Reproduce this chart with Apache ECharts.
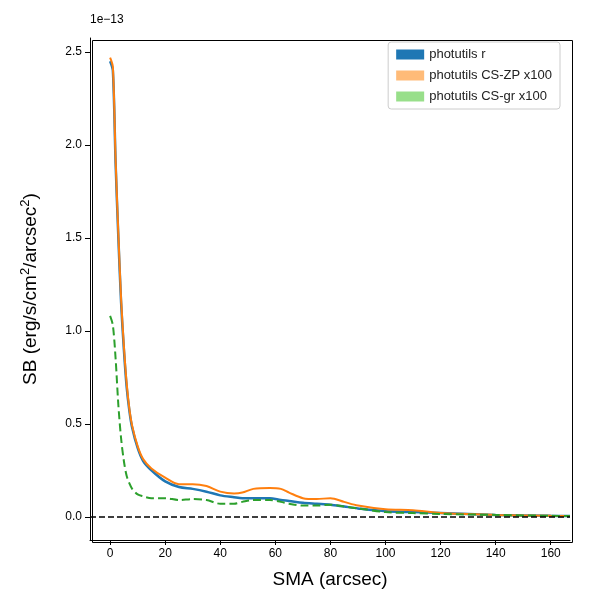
<!DOCTYPE html>
<html><head><meta charset="utf-8">
<script src="https://cdn.jsdelivr.net/npm/echarts@6/dist/echarts.min.js"></script>
<style>body{margin:0}#c{width:600px;height:600px}</style></head>
<body><div id="c"></div>
<script>
var sma = [0,1,2,3,4,5,6,7,8,10,12,15,20,25,30,35,40,45,48,52,58,62,65,70,75,80,85,90,100,110,120,140,160,167];
var photR = [2.45,2.4,1.9,1.5,1.15,0.9,0.7,0.57,0.48,0.37,0.3,0.25,0.19,0.16,0.15,0.135,0.115,0.105,0.1,0.1,0.1,0.09,0.085,0.075,0.07,0.065,0.055,0.045,0.03,0.025,0.02,0.01,0.005,0.004];
var csZP = [2.47,2.42,1.92,1.52,1.17,0.92,0.72,0.58,0.49,0.38,0.31,0.26,0.21,0.175,0.175,0.165,0.135,0.125,0.13,0.15,0.155,0.15,0.13,0.1,0.095,0.1,0.08,0.06,0.04,0.035,0.02,0.01,0.005,0.004];
var csGR = [1.08,1.03,0.85,0.6,0.42,0.3,0.22,0.18,0.15,0.12,0.11,0.1,0.1,0.09,0.095,0.09,0.07,0.07,0.08,0.09,0.09,0.08,0.07,0.06,0.06,0.065,0.055,0.045,0.025,0.02,0.015,0.01,0.005,0.004];
var xTicks = [0,20,40,60,80,100,120,140,160];
var yTicks = [0,0.5,1,1.5,2,2.5];
function pairs(v){return sma.map(function(x,i){return [x,v[i]];});}
var chart = echarts.init(document.getElementById('c'));
chart.setOption({
  animation:false,
  grid:{left:90,right:30,top:38,bottom:60},
  legend:{top:42,right:40,orient:'vertical',itemWidth:28,itemHeight:10,itemGap:8,
    backgroundColor:'#fff',borderColor:'#ccc',borderWidth:1,borderRadius:3,padding:[6,8],
    textStyle:{fontSize:13,color:'#222'},
    data:[{name:'photutils r',icon:'rect',itemStyle:{color:'#1f77b4'}},
          {name:'photutils CS-ZP x100',icon:'rect',itemStyle:{color:'#ffbb78'}},
          {name:'photutils CS-gr x100',icon:'rect',itemStyle:{color:'#98df8a'}}]},
  xAxis:{type:'value',min:-7.3,max:167,
    name:'SMA (arcsec)',nameLocation:'middle',nameGap:30,nameTextStyle:{fontSize:19,color:'#000'},
    axisLine:{onZero:false,lineStyle:{color:'#000'}},
    axisTick:{customValues:xTicks,lineStyle:{color:'#000'}},
    axisLabel:{customValues:xTicks,color:'#000',fontSize:12},splitLine:{show:false}},
  yAxis:{type:'value',min:-0.125,max:2.575,
    name:'{a|SB (erg/s/cm}{s|2}{a|/arcsec}{s|2}{a|)}',nameLocation:'middle',nameGap:48,
    nameTextStyle:{rich:{a:{fontSize:19,color:'#000'},s:{fontSize:13,color:'#000',verticalAlign:'bottom',padding:[0,0,10,0]}}},
    axisLine:{show:true,onZero:false,lineStyle:{color:'#000'}},
    axisTick:{show:true,customValues:yTicks,lineStyle:{color:'#000'}},
    axisLabel:{customValues:yTicks,color:'#000',fontSize:12,formatter:function(v){return v.toFixed(1);}},splitLine:{show:false}},
  graphic:[{type:'text',left:90,top:14,style:{text:'1e\u221213',fontSize:12,fill:'#000'}},
           {type:'rect',left:90,top:38,shape:{width:480,height:502},style:{fill:'none',stroke:'#000',lineWidth:1},silent:true}],
  series:[
    {name:'photutils r',type:'line',data:pairs(photR),showSymbol:false,smooth:0.3,lineStyle:{color:'#1f77b4',width:2.5},itemStyle:{color:'#1f77b4'}},
    {name:'photutils CS-ZP x100',type:'line',data:pairs(csZP),showSymbol:false,smooth:0.3,lineStyle:{color:'#ff7f0e',width:2},itemStyle:{color:'#ffbb78'},
      markLine:{silent:true,symbol:'none',label:{show:false},lineStyle:{color:'#000',type:'dashed',width:1.5},data:[{yAxis:0}]}},
    {name:'photutils CS-gr x100',type:'line',data:pairs(csGR),showSymbol:false,smooth:0.3,lineStyle:{color:'#2ca02c',width:2,type:'dashed'},itemStyle:{color:'#98df8a'}}
  ]
});
</script></body></html>
